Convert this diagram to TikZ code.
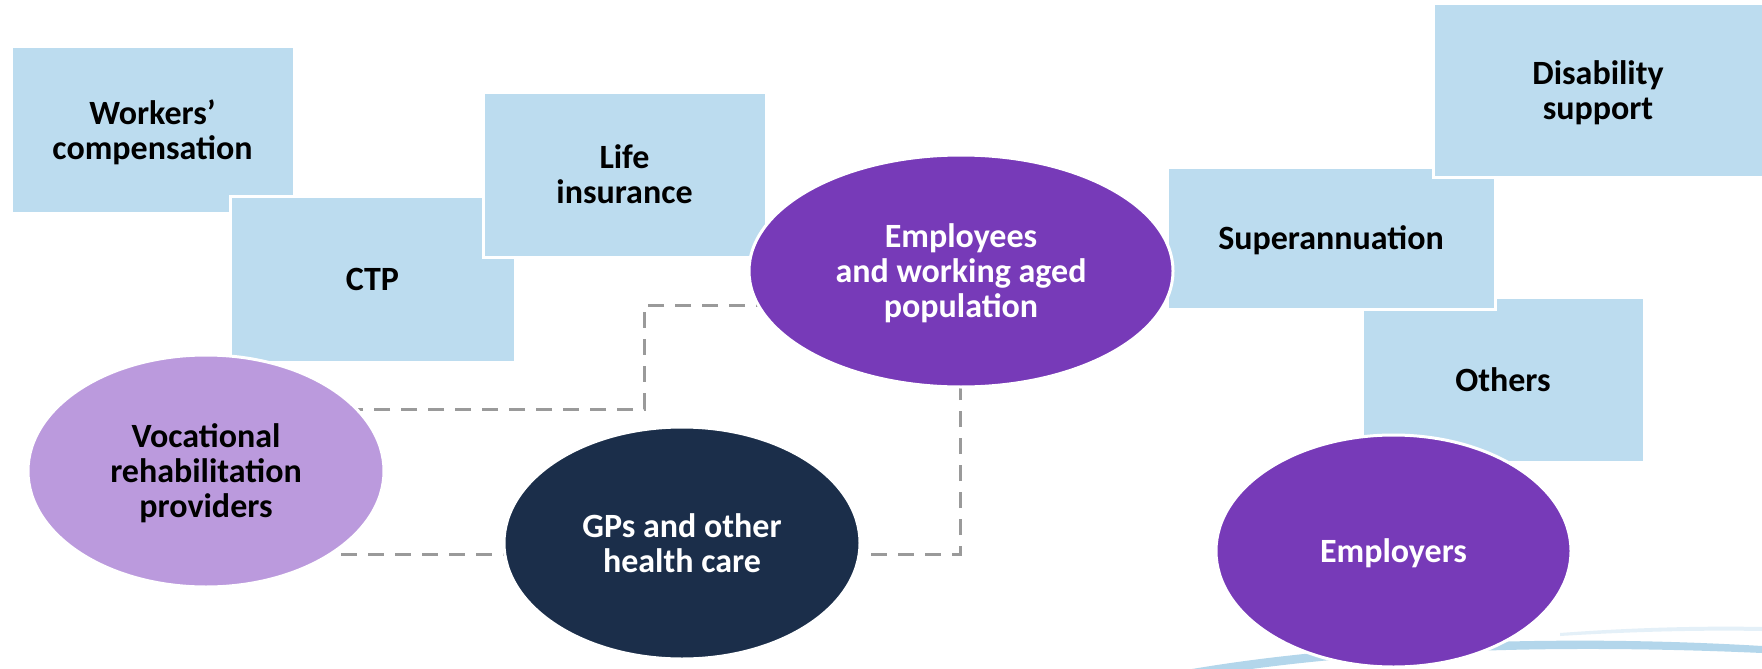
\documentclass[tikz,border=0pt]{standalone}
\usepackage{fontspec}
\setmainfont{Carlito}
\usetikzlibrary{shapes.geometric,backgrounds}

\definecolor{boxblue}{HTML}{BCDCEF}
\definecolor{lilac}{HTML}{BB9ADD}
\definecolor{violet}{HTML}{773AB8}
\definecolor{navy}{HTML}{1B2E4A}
\definecolor{linkgray}{HTML}{9A9A9A}
\definecolor{swoosh}{HTML}{B3D6EB}
\definecolor{swooshfaint}{HTML}{E4F0F8}

\pgfdeclarelayer{links}
\pgfsetlayers{background,links,main}

% centred lines of a label, set slightly low in their shape
\newcommand\shapetext[1]{\raisebox{-4.5pt}[\height][\depth]{\begin{tabular}{@{}c@{}}#1\end{tabular}}}

\begin{document}
\begin{tikzpicture}[x=1pt, y=-1pt,
  every node/.style={font=\fontsize{34}{35}\selectfont\bfseries, inner sep=0pt},
  box/.style={rectangle, fill=boxblue, draw=white, line width=3pt, text=black},
  oval/.style={ellipse, draw=white, line width=3pt, minimum width=356pt, minimum height=232pt},
  link/.style={draw=linkgray, line width=3pt, dash pattern=on 16pt off 11pt}]

\begin{pgfonlayer}{background}
  \fill[white] (0,0) rectangle (1762,669);
\end{pgfonlayer}
\useasboundingbox (0,0) rectangle (1762,669);

% light blue swoosh along the bottom right
\fill[swooshfaint] (1560,633) .. controls (1640,627) and (1710,626) .. (1762,627)
  -- (1762,631) .. controls (1710,630) and (1640,631) .. (1560,636) -- cycle;
\fill[swoosh] (1175,672) .. controls (1340,642) and (1560,634) .. (1762,646)
  -- (1762,653) .. controls (1560,644) and (1380,650) .. (1230,672) -- cycle;

% insurance and benefit schemes
\node[box, minimum width=283pt, minimum height=166pt] (wc)   at (152.5,130)   {\shapetext{Workers’\\compensation}};
\node[box, minimum width=285pt, minimum height=166pt] (ctp)  at (372.5,279)   {\shapetext{CTP}};
\node[box, minimum width=283pt, minimum height=165pt] (life) at (624.5,174.5) {\shapetext{Life\\insurance}};
\node[box, minimum width=282pt, minimum height=165pt] (oth)  at (1503,379.5)  {\shapetext{Others}};
\node[box, minimum width=328pt, minimum height=142pt] (sup)  at (1331,238)    {\shapetext{Superannuation}};
\node[box, minimum width=330pt, minimum height=173pt] (dis)  at (1598,90.5)   {\shapetext{Disability\\support}};

% people and providers
\node[oval, fill=lilac, text=black] (voc) at (206,471) {\shapetext{Vocational\\rehabilitation\\providers}};
\node[oval, fill=navy, text=white] (gp) at (682,543) {\shapetext{GPs and other\\health care}};
\node[oval, fill=violet, text=white, minimum width=424pt] (emp) at (961,271) {\shapetext{Employees\\and working aged\\population}};
\node[oval, fill=violet, text=white, minimum width=355pt] (empl) at (1393.5,551) {\shapetext{Employers}};

% dashed links, kept behind the shapes
\coordinate (k1) at (644,305);
\coordinate (k2) at (644,409);
\coordinate (k3) at (960,554);
\begin{pgfonlayer}{links}
  \draw[link] (emp.center |- k1) -- (k1) -- (k2) -- (voc.center |- k2);
  \draw[link] (voc.center |- k3) -- (gp.center |- k3);
  \draw[link] (gp.center |- k3) -- (k3) -- (emp.center -| k3);
\end{pgfonlayer}
\end{tikzpicture}
\end{document}
